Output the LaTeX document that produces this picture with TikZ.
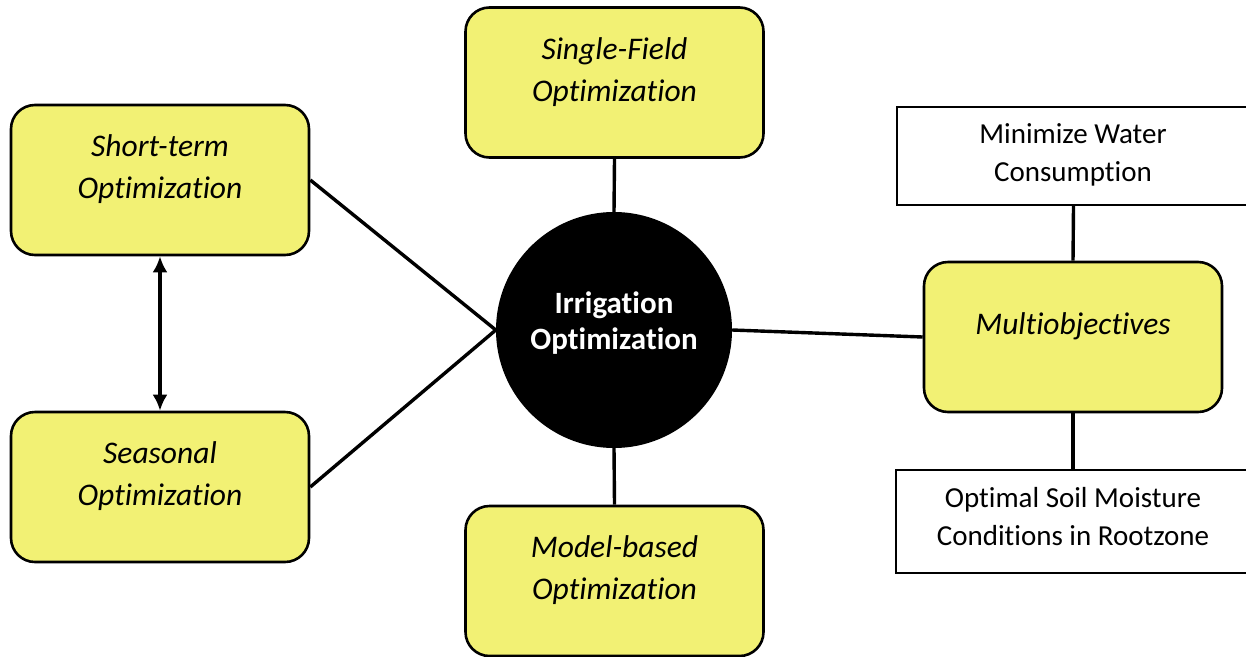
\documentclass[tikz,border=0pt]{standalone}
\usepackage{fontspec}
\setmainfont{Carlito}[Ligatures=NoCommon]
\usetikzlibrary{arrows.meta}
\definecolor{boxyellow}{RGB}{242,241,116}
\tikzset{
  optbox/.style={draw=black, line width=2.6pt, fill=boxyellow, rounded corners=24pt,
    minimum width=298pt, minimum height=150pt, inner sep=0pt},
  goalbox/.style={draw=black, line width=2pt, fill=white, inner sep=0pt},
  boxtext/.style={align=center, font=\fontsize{31.5}{42}\selectfont\itshape},
  goaltext/.style={align=center, font=\fontsize{29}{38}\selectfont},
  link/.style={line width=3.4pt, draw=black},
  bigtip/.tip={Latex[length=16pt,width=15pt]},
}
\begin{document}
\begin{tikzpicture}[x=1pt, y=-1pt]
\useasboundingbox (0,0) rectangle (1246,656);

% central hub
\node[circle, fill=black, minimum size=236pt, inner sep=0pt] (core) at (614,330) {};
\node[align=center, text=white, font=\fontsize{31}{36}\selectfont\bfseries] (coret) at (614,323) {Irrigation\\Optimization};

% optimization categories
\node[optbox] (st) at (160,180) {};
\node[boxtext] (stt) at (160,169) {Short-term\\Optimization};
\node[optbox] (se) at (160,487) {};
\node[boxtext] (set) at (160,476) {Seasonal\\Optimization};
\node[optbox] (sf) at (614.5,82.5) {};
\node[boxtext] (sft) at (614.5,72) {Single-Field\\Optimization};
\node[optbox] (mb) at (614.5,581) {};
\node[boxtext] (mbt) at (614.5,570) {Model-based\\Optimization};
\node[optbox] (mo) at (1073,337) {};
\node[boxtext] (mot) at (1073,326) {Multiobjectives};

% objectives
\node[goalbox, minimum width=353pt, minimum height=98pt] (mw) at (1073.5,156) {};
\node[goaltext] (mwt) at (1073,155) {Minimize Water\\Consumption};
\node[goalbox, minimum width=354pt, minimum height=103pt] (sm) at (1073,521.5) {};
\node[goaltext] (smt) at (1073,517) {Optimal Soil Moisture\\Conditions in Rootzone};

% connectors
\draw[link] (st.east) -- (core.west);
\draw[link] (se.east) -- (core.west);
\draw[link] (sf.south) -- (core.north);
\draw[link] (core.south) -- (mb.north);
\draw[link] (core.east) -- (mo.west);
\draw[link] (mw.south) -- (mo.north);
\draw[link] (mo.south) -- (sm.north);
\draw[link, bigtip-bigtip] (st.south) -- (se.north);
\end{tikzpicture}
\end{document}
